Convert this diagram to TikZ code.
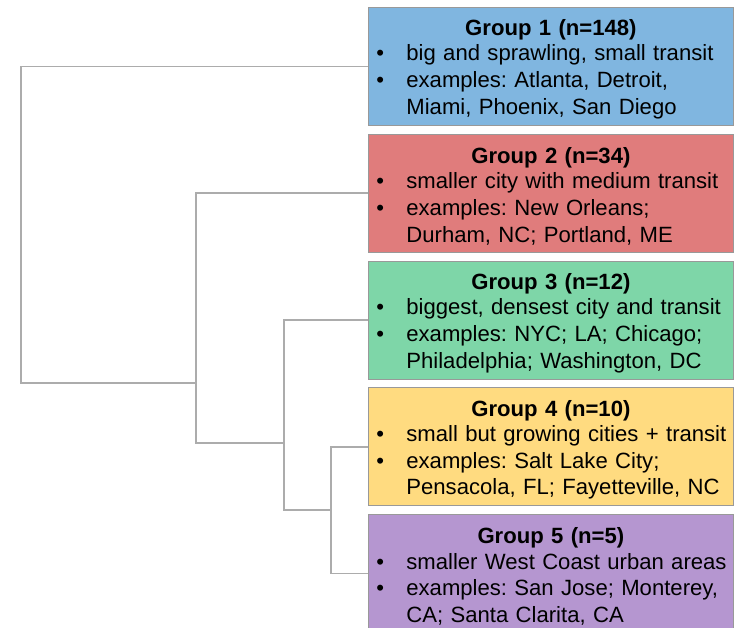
\documentclass[tikz,border=0pt]{standalone}
\usepackage{fontspec}
\setmainfont{Liberation Sans}
\usetikzlibrary{positioning}

\definecolor{grpblue}{RGB}{128,182,224}
\definecolor{grpred}{RGB}{224,124,124}
\definecolor{grpgreen}{RGB}{126,214,168}
\definecolor{grpyellow}{RGB}{255,219,128}
\definecolor{grppurple}{RGB}{181,150,208}
\definecolor{treegray}{RGB}{172,172,172}

% title, first bullet, second bullet (two lines)
\newcommand{\grptext}[4]{%
  \makebox[\linewidth][c]{\rule{0pt}{22pt}\bfseries #1}\\[-1.5pt]
  \hspace*{8pt}\makebox[30pt][l]{\textbullet}#2\\
  \hspace*{8pt}\makebox[30pt][l]{\textbullet}#3\\
  \hspace*{38pt}#4}

\tikzset{
  grpbox/.style={draw=gray!80, line width=0.8pt, inner sep=0pt,
    text width=365pt, minimum height=118pt, align=left,
    font=\frenchspacing\fontsize{22.1}{26.8}\selectfont},
  tree/.style={draw=treegray, line width=1.6pt}
}

\begin{document}
\begin{tikzpicture}[x=1pt, y=-1pt, node distance=8pt]
  \useasboundingbox (0,0) rectangle (736,628);

  \node[grpbox, fill=grpblue, anchor=north west] (g1) at (368,7)
    {\grptext{Group 1 (n=148)}{big and sprawling, small transit}{examples: Atlanta, Detroit,}{Miami, Phoenix, San Diego}};
  \node[grpbox, fill=grpred, below=of g1] (g2)
    {\grptext{Group 2 (n=34)}{smaller city with medium transit}{examples: New Orleans;}{Durham, NC; Portland, ME}};
  \node[grpbox, fill=grpgreen, below=of g2] (g3)
    {\grptext{Group 3 (n=12)}{biggest, densest city and transit}{examples: NYC; LA; Chicago;}{Philadelphia; Washington, DC}};
  \node[grpbox, fill=grpyellow, below=of g3] (g4)
    {\grptext{Group 4 (n=10)}{small but growing cities + transit}{examples: Salt Lake City;}{Pensacola, FL; Fayetteville, NC}};
  \node[grpbox, fill=grppurple, below=of g4] (g5)
    {\grptext{Group 5 (n=5)}{smaller West Coast urban areas}{examples: San Jose; Monterey,}{CA; Santa Clarita, CA}};

  % dendrogram joins
  \coordinate (r) at (21,383);
  \coordinate (k1) at (196,383);
  \coordinate (k2) at (284,443);
  \coordinate (k3) at (331,510);

  \draw[tree] (g1.west) -| (r) -- (k1);
  \draw[tree] (g2.west) -| (k1) |- (k2);
  \draw[tree] (g3.west) -| (k2) |- (k3);
  \draw[tree] (g4.west) -| (k3) |- (g5.west);
\end{tikzpicture}
\end{document}
